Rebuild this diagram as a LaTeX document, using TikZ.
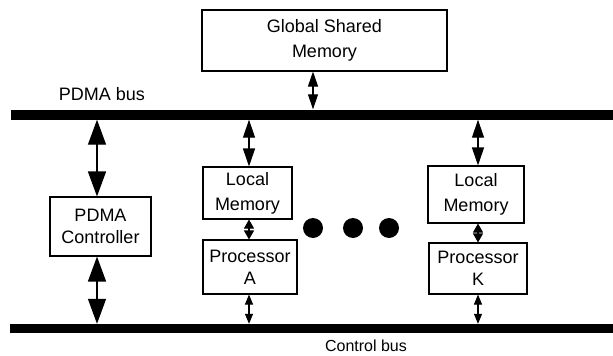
\documentclass[tikz,border=0pt]{standalone}
\usepackage{fontspec}
\setmainfont{Liberation Sans}
\usetikzlibrary{arrows.meta}
\tikzset{
  box/.style={draw, line width=1.1pt, fill=white, inner sep=0pt, align=center,
              font=\fontsize{18}{22}\selectfont},
  widebox/.style={box, font=\fontsize{18}{25}\selectfont},
  bus/.style={fill=black, draw=none, inner sep=0pt},
  lbl/.style={font=\fontsize{18}{22}\selectfont, inner sep=0pt},
  smalllbl/.style={font=\fontsize{16}{19}\selectfont, inner sep=0pt},
  bigarrow/.style={line width=1.4pt,
    {Triangle[length=25pt,width=18pt]}-{Triangle[length=25pt,width=18pt]}},
  midarrow/.style={line width=1.2pt,
    {Triangle[length=18pt,width=12pt]}-{Triangle[length=18pt,width=12pt]}},
  gsmarrow/.style={line width=1.1pt,
    {Triangle[length=15pt,width=10pt]}-{Triangle[length=15pt,width=10pt]}},
  smallarrow/.style={line width=1.1pt,
    {Triangle[length=9pt,width=10pt]}-{Triangle[length=9pt,width=10pt]}},
  tinyarrow/.style={line width=1.1pt,
    {Triangle[length=10pt,width=8pt]}-{Triangle[length=10pt,width=8pt]}},
}
\begin{document}
\begin{tikzpicture}[x=1pt,y=-1pt]
\useasboundingbox (0,0) rectangle (613,356);

% buses
\node[bus, minimum width=602pt, minimum height=10pt] (pbus) at (312,114.5) {};
\node[bus, minimum width=603pt, minimum height=9pt] (cbus) at (311.5,328.5) {};
\node[lbl] (pbuslbl) at (102,94) {PDMA bus};
\node[smalllbl] (cbuslbl) at (366,346) {Control bus};

% boxes
\node[widebox, minimum width=245pt, minimum height=61pt] (gsm) at (324.5,40.5) {Global Shared\\Memory};
\node[box, minimum width=101pt, minimum height=59pt] (ctrl) at (100.5,226.5) {PDMA\\Controller};
\node[widebox, minimum width=89pt, minimum height=52pt] (lmA) at (247.5,193) {Local\\Memory};
\node[box, minimum width=94pt, minimum height=54pt] (prA) at (250,267) {Processor\\A};
\node[widebox, minimum width=96pt, minimum height=57pt] (lmK) at (476,194.5) {Local\\Memory};
\node[box, minimum width=98pt, minimum height=51pt] (prK) at (478,268.5) {Processor\\K};

% ellipsis dots
\foreach \i/\x in {1/313,2/353,3/389}
  \fill (\x,228) circle (10pt) coordinate (dot\i);

% connectors
\coordinate (gsmx) at (313,0);
\coordinate (cx) at (97,0);
\coordinate (ax) at (249,0);
\coordinate (kx) at (478,0);
\draw[gsmarrow] (gsm.south -| gsmx) -- (pbus.north -| gsmx);
\draw[bigarrow] (pbus.south -| cx) -- (ctrl.north -| cx);
\draw[bigarrow] (ctrl.south -| cx) -- (cbus.north -| cx);
\draw[midarrow] (pbus.south -| ax) -- (lmA.north -| ax);
\draw[smallarrow] (lmA.south -| ax) -- (prA.north -| ax);
\draw[tinyarrow] (prA.south -| ax) -- (cbus.north -| ax);
\draw[midarrow] (pbus.south -| kx) -- (lmK.north -| kx);
\draw[smallarrow] (lmK.south -| kx) -- (prK.north -| kx);
\draw[tinyarrow] (prK.south -| kx) -- (cbus.north -| kx);
\end{tikzpicture}
\end{document}
